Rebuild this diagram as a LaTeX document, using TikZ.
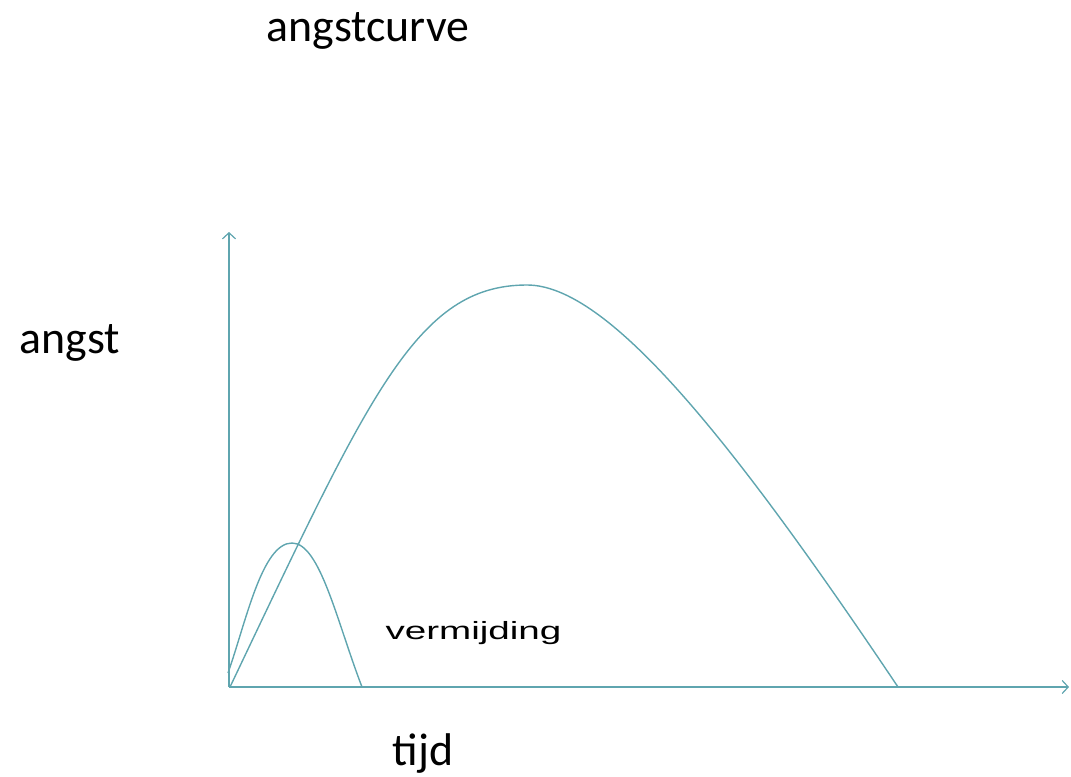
\documentclass[tikz,border=0pt]{standalone}
\usepackage{fontspec}
\setmainfont{Carlito}
\newfontfamily\arialf{Liberation Sans}
\usetikzlibrary{arrows.meta}
\definecolor{curvecol}{RGB}{95,165,175}
\tikzset{
  axis/.style={draw=curvecol, line width=1.4bp, -{Straight Barb[length=6bp,width=13bp,line width=1.2bp]}},
  curve/.style={draw=curvecol, line width=1.4bp},
  biglabel/.style={anchor=base, inner sep=0pt, font=\fontsize{46}{50}\selectfont},
  smalllabel/.style={anchor=base, inner sep=0pt, font=\arialf\fontsize{25}{28}\selectfont}
}
\begin{document}
\begin{tikzpicture}[x=1bp, y=-1bp]
\useasboundingbox (0,0) rectangle (1071,777);
\coordinate (O) at (229,687);
\coordinate (ytop) at (229,232);
\coordinate (xend) at (1069,687);
\coordinate (bigstart) at (230,687);
\coordinate (bigpeak) at (527,285);
\coordinate (bigend) at (898,687);
\coordinate (smallstart) at (228,673);
\coordinate (smallpeak) at (292,543);
\coordinate (smallend) at (362,687);
\draw[axis] (O) -- (ytop);
\draw[axis] (O) -- (xend);
% big curve
\draw[curve] (bigstart) .. controls (370,393) and (417,285) .. (bigpeak)
                        .. controls (607,285) and (728,433.7) .. (bigend);
% small curve
\draw[curve] (smallstart) .. controls (246,622) and (262,543) .. (smallpeak)
                          .. controls (320,543) and (337,622) .. (smallend);
\node[biglabel] (title) at (368,42) {angstcurve};
\node[biglabel] (ylab) at (70,353) {angst};
\node[biglabel] (xlab) at (423,765) {tijd};
\node[smalllabel] (verm) at (473.5,639) {\scalebox{1.55}[1]{vermijding}};
\end{tikzpicture}
\end{document}
